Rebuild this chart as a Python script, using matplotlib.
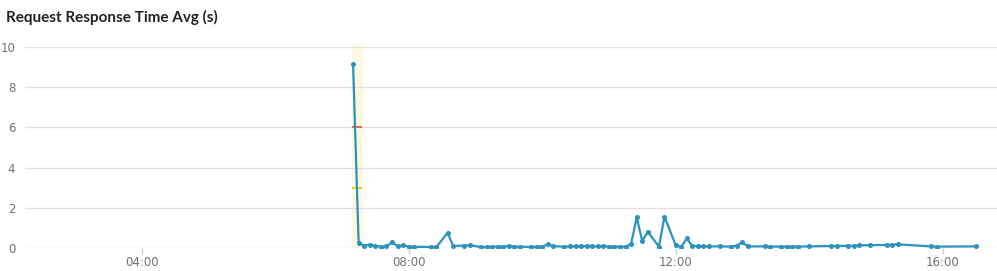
import pandas as pd
import matplotlib
matplotlib.use('Agg')
import matplotlib.pyplot as plt
import matplotlib.dates as mdates

# sample times (5 min buckets) and average response time in seconds
times = ['07:10', '07:15', '07:20', '07:25', '07:30', '07:35', '07:40', '07:45', '07:50', '07:55',
         '08:00', '08:05', '08:20', '08:25', '08:35', '08:40', '08:50', '08:55', '09:05', '09:10',
         '09:15', '09:20', '09:25', '09:30', '09:35', '09:40', '09:50', '09:55', '10:00', '10:05',
         '10:10', '10:20', '10:25', '10:30', '10:35', '10:40', '10:45', '10:50', '10:55', '11:00',
         '11:05', '11:10', '11:15', '11:20', '11:25', '11:30', '11:35', '11:45', '11:50', '12:00',
         '12:05', '12:10', '12:15', '12:20', '12:25', '12:30', '12:40', '12:50', '12:55', '13:00',
         '13:05', '13:20', '13:25', '13:35', '13:40', '13:45', '13:50', '14:00', '14:20', '14:25',
         '14:35', '14:40', '14:45', '14:55', '15:10', '15:15', '15:20', '15:50', '15:55', '16:30']
avg_resp = [9.15, 0.25, 0.12, 0.17, 0.10, 0.07, 0.08, 0.28, 0.09, 0.14,
            0.07, 0.06, 0.05, 0.05, 0.76, 0.10, 0.12, 0.14, 0.05, 0.05,
            0.07, 0.07, 0.07, 0.10, 0.07, 0.06, 0.06, 0.06, 0.07, 0.18,
            0.10, 0.06, 0.08, 0.08, 0.08, 0.09, 0.08, 0.08, 0.08, 0.07,
            0.07, 0.07, 0.07, 0.20, 1.53, 0.35, 0.81, 0.07, 1.56, 0.15,
            0.04, 0.48, 0.10, 0.09, 0.08, 0.08, 0.08, 0.07, 0.12, 0.28,
            0.08, 0.08, 0.07, 0.07, 0.07, 0.07, 0.07, 0.08, 0.10, 0.10,
            0.11, 0.11, 0.13, 0.14, 0.15, 0.16, 0.18, 0.08, 0.07, 0.08]

# highlighted alert window and thresholds
alert_start, alert_end = '07:09', '07:18'
warn_level = 3
crit_level = 6

yticks = [0, 2, 4, 6, 8, 10]
xticks = ['04:00', '08:00', '12:00', '16:00']
x_min, x_max = '02:15', '16:49'

day = '2024-01-01 '
def ts(s):
    return pd.Timestamp(day + s)

t = [ts(s) for s in times]

fig = plt.figure(figsize=(9.97, 2.71), dpi=100)
ax = fig.add_axes([25 / 997, 23 / 271, 972 / 997, 201 / 271])

# alert band and threshold dashes
ax.axvspan(ts(alert_start), ts(alert_end), ymin=0.01, ymax=1.01, color='#fdf9e1',
           zorder=0, clip_on=False)
ax.hlines(crit_level, ts(alert_start), ts(alert_end), color='#e36d4b', lw=1.4, zorder=3)
ax.hlines(warn_level, ts(alert_start), ts(alert_end), color='#e6d21a', lw=1.4, zorder=3)

ax.plot(t, avg_resp, color='#2b93bd', lw=1.6, marker='o', ms=2.6, zorder=4)

ax.set_ylim(0, 10)
ax.set_xlim(ts(x_min), ts(x_max))
ax.set_yticks(yticks)
ax.set_xticks([ts(s) for s in xticks])
ax.xaxis.set_major_formatter(mdates.DateFormatter('%H:%M'))

ax.grid(axis='y', color='#e0e0e0', lw=1)
ax.set_axisbelow(True)
for sp in ax.spines.values():
    sp.set_visible(False)
ax.tick_params(axis='y', length=0, pad=7, labelsize=8.5, labelcolor='#707070')
ax.tick_params(axis='x', length=4, width=1, color='#cccccc', pad=2,
               labelsize=8.5, labelcolor='#707070')

fig.text(6 / 997, 1 - 22 / 271, 'Request Response Time Avg (s)', fontsize=11,
         fontweight='bold', color='#222222', family='Lato', va='baseline')

fig.savefig('out.png', dpi=100)
